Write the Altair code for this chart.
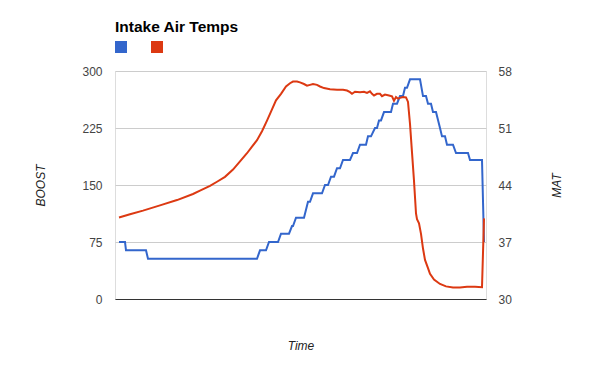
import altair as alt
import pandas as pd

# ---- data ----
# time index (arbitrary sample units), BOOST series
boost_t = [4, 10, 11, 31, 33, 142, 145, 151, 154, 163, 166, 174, 177, 178, 181, 189,
           193, 195, 198, 207, 210, 213, 216, 219, 222, 225, 228, 235, 238, 242, 245,
           251, 253, 256, 260, 262, 264, 266, 269, 276, 278, 282, 285, 288, 290, 292,
           295, 305, 308, 311, 313, 316, 318, 321, 325, 327, 330, 332, 338, 341, 353,
           355, 367, 369]
boost_v = [75, 75, 64, 64, 53, 53, 64, 64, 75, 75, 86, 86, 96, 96, 107, 107,
           128, 128, 139, 139, 150, 150, 161, 161, 172, 172, 183, 183, 192, 192, 203,
           203, 214, 214, 225, 225, 235, 235, 246, 246, 257, 257, 267, 267, 278, 278,
           289, 289, 267, 267, 257, 257, 246, 246, 225, 214, 214, 203, 203, 192, 192,
           183, 183, 75]

# MAT series
mat_t = [4, 15, 28, 45, 62, 78, 85, 95, 102, 110, 118, 125, 132, 137, 142, 147,
         152, 156, 161, 166, 171, 175, 178, 182, 185, 189, 192, 195, 198, 202, 205,
         209, 215, 222, 228, 232, 235, 237, 240, 245, 249, 252, 255, 257, 259, 262,
         265, 267, 270, 274, 277, 279, 281, 283, 285, 288, 291, 293, 295, 297, 299,
         301, 302, 304, 306, 308, 310, 313, 315, 319, 325, 331, 338, 345, 352, 360,
         367, 369]
mat_v = [40.0, 40.4, 40.85, 41.5, 42.15, 42.9, 43.3, 43.9, 44.4, 45.0, 45.9, 46.9,
         47.9, 48.7, 49.5, 50.6, 51.9, 53.0, 54.4, 55.2, 56.1, 56.5, 56.7, 56.7,
         56.6, 56.4, 56.2, 56.3, 56.4, 56.3, 56.1, 55.9, 55.75, 55.7, 55.7, 55.6,
         55.4, 55.2, 55.45, 55.4, 55.45, 55.3, 55.5, 55.2, 55.0, 55.2, 55.2, 54.9,
         55.1, 55.0, 54.9, 54.35, 54.8, 54.6, 54.7, 54.8, 54.75, 54.2, 51.5, 48.0,
         44.5, 40.5, 39.8, 39.3, 38.0, 36.2, 34.8, 33.8, 33.1, 32.4, 31.85, 31.55,
         31.4, 31.4, 31.5, 31.5, 31.45, 39.9]

time_domain = [0, 371]
boost_ticks = [0, 75, 150, 225, 300]
mat_ticks = [30, 37, 44, 51, 58]
series_names = ["BOOST", "MAT"]
series_colors = ["#3366cc", "#dc3912"]

df_b = pd.DataFrame({"t": boost_t, "v": boost_v, "series": "BOOST"})
df_m = pd.DataFrame({"t": mat_t, "v": mat_v, "series": "MAT"})

FONT = "Liberation Sans"

x_axis = alt.Axis(title="Time", labels=False, ticks=False, grid=False,
                  domainColor="#333333", domainWidth=1,
                  titleFontStyle="italic", titleFontWeight="normal",
                  titleFontSize=12, titleColor="#222222", titleFont=FONT,
                  titleY=50, titleBaseline="alphabetic")
x_enc = alt.X("t:Q", scale=alt.Scale(domain=time_domain, nice=False, zero=False),
              axis=x_axis)

# legend swatch: a square outline whose stroke fills it completely (12x12)
color_enc = alt.Color(
    "series:N",
    scale=alt.Scale(domain=series_names, range=series_colors),
    legend=alt.Legend(
        title=None, orient="none", legendX=0, legendY=-30, direction="horizontal",
        symbolType="square", symbolSize=36, symbolStrokeWidth=6,
        symbolOpacity=1,
        labelExpr="''", labelOffset=0, columnPadding=6, padding=0,
    ),
)

boost_line = alt.Chart(df_b).mark_line(strokeWidth=2, interpolate="linear").encode(
    x=x_enc,
    y=alt.Y("v:Q", scale=alt.Scale(domain=[0, 300], nice=False),
            axis=alt.Axis(title="BOOST", orient="left", values=boost_ticks,
                          grid=True, gridColor="#cccccc", domain=False, ticks=False,
                          labelPadding=13, labelFontSize=12, labelColor="#444444",
                          labelFont=FONT, titleFont=FONT, titleFontSize=12,
                          titleFontStyle="italic", titleFontWeight="normal",
                          titleColor="#222222", titleAngle=270, titleX=-71,
                          titleY=114, titleAlign="center",
                          titleBaseline="alphabetic")),
    color=color_enc,
)

mat_line = alt.Chart(df_m).mark_line(strokeWidth=2, interpolate="linear").encode(
    x=x_enc,
    y=alt.Y("v:Q", scale=alt.Scale(domain=[30, 58], nice=False, zero=False),
            axis=alt.Axis(title="MAT", orient="right", values=mat_ticks,
                          grid=False, domain=False, ticks=False,
                          labelPadding=12, labelFontSize=12, labelColor="#444444",
                          labelFont=FONT, titleFont=FONT, titleFontSize=12,
                          titleFontStyle="italic", titleFontWeight="normal",
                          titleColor="#222222", titleAngle=270, titleX=74,
                          titleY=114, titleAlign="center",
                          titleBaseline="alphabetic")),
    color=color_enc,
)

chart = alt.layer(boost_line, mat_line).resolve_scale(y="independent").properties(
    width=371, height=228,
    autosize=alt.AutoSizeParams(type="none"),
    padding={"left": 107, "top": 63, "right": 106, "bottom": 64},
    title=alt.TitleParams("Intake Air Temps", anchor="start", frame="group",
                          font=FONT, fontSize=15.5, fontWeight="bold",
                          color="#000000", offset=6),
).configure_view(stroke=None).configure(background="white")

chart.save("out.html", embed_options={"renderer": "svg", "actions": False})
